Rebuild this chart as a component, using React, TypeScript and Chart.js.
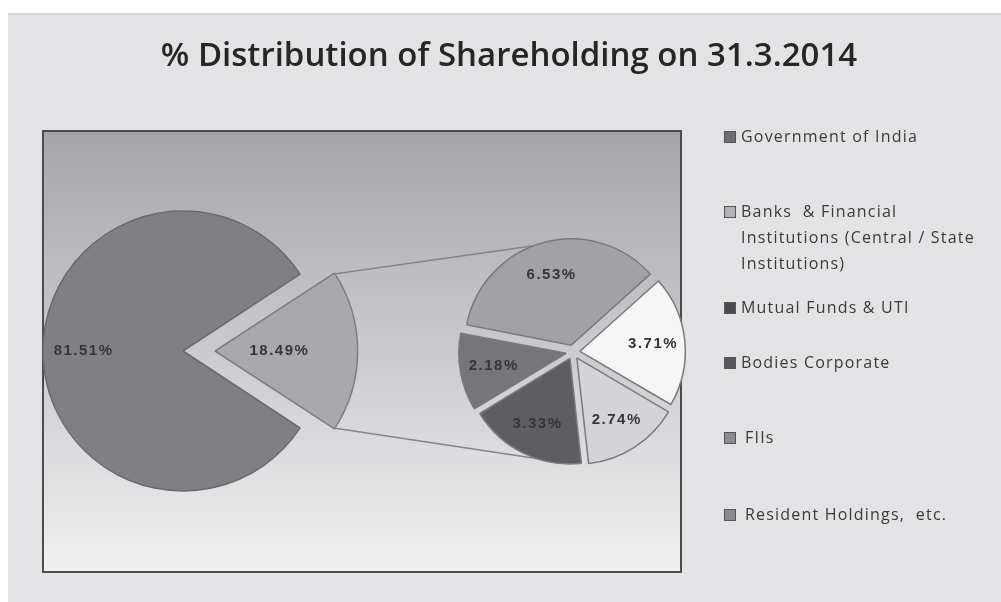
import React, { useEffect, useRef } from 'react';
import { Chart, registerables } from 'chart.js';

Chart.register(...registerables);

// ---------------- data ----------------
const titleText = '% Distribution of Shareholding on 31.3.2014';
const categoryLines: string[][] = [
  ['Government of India'],
  ['Banks  & Financial', 'Institutions (Central / State', 'Institutions)'],
  ['Mutual Funds & UTI'],
  ['Bodies Corporate'],
  ['FIIs'],
  ['Resident Holdings,  etc.'],
];
const categories = categoryLines.map((l) => l.join(' '));
const shares = [81.51, 3.71, 3.33, 2.18, 2.74, 6.53];
const mainLabels = ['Government of India', 'Others'];
const mainValues = [81.51, 18.49];
// order in which the "Others" categories appear clockwise in the secondary pie
const secondaryOrder = [5, 1, 4, 2, 3];

// ---------------- styles ----------------
const sliceColors = ['#808084', '#f6f6f6', '#5e5e62', '#76767a', '#d4d4d6', '#a2a2a6'];
const legendSwatch = ['#6e6e72', '#b4b4b8', '#4a4a4e', '#58585c', '#8c8c90', '#8a8a8e'];
const othersColor = '#a9a9ad';
const W = 1001;
const H = 602;
const panel = { x: 8, y: 13 };
const box = { l: 43, t: 131, r: 681, b: 572 };
const legendY = [137, 212, 308, 363, 438, 515];
const legendTextX = [741, 741, 741, 741, 745, 745];
const labelFont = 'bold 15px "Liberation Sans", Arial, sans-serif';
// Chart.js v4 arcs translate by offset/4
const OFFSET_SCALE = 4;
const mainExplode = [0, 32];
const secExplode = 7;

const fmt = (v: number) => v.toFixed(2) + '%';

const framePlugin = {
  id: 'frame',
  beforeDraw(chart: any) {
    const ctx = chart.ctx as CanvasRenderingContext2D;
    ctx.save();
    ctx.fillStyle = '#ffffff';
    ctx.fillRect(0, 0, W, H);
    ctx.fillStyle = '#e3e3e5';
    ctx.fillRect(panel.x, panel.y, W - panel.x, H - panel.y);
    ctx.fillStyle = '#d6d6d8';
    ctx.fillRect(panel.x, panel.y, W - panel.x, 2);
    const g = ctx.createLinearGradient(0, box.t, 0, box.b);
    g.addColorStop(0, '#a4a5a9');
    g.addColorStop(0.5, '#cbcbce');
    g.addColorStop(1, '#f0f0f1');
    ctx.fillStyle = g;
    ctx.fillRect(box.l, box.t, box.r - box.l, box.b - box.t);
    ctx.strokeStyle = '#4c4c4e';
    ctx.lineWidth = 2;
    ctx.strokeRect(box.l, box.t, box.r - box.l, box.b - box.t);
    ctx.restore();
  },
  afterDraw(chart: any) {
    const ctx = chart.ctx as CanvasRenderingContext2D;
    ctx.save();
    // title
    ctx.fillStyle = '#262626';
    ctx.font = '600 33px "Open Sans", sans-serif';
    ctx.textAlign = 'center';
    ctx.textBaseline = 'middle';
    ctx.fillText(titleText, 509, 57, 700);
    // legend
    ctx.textAlign = 'left';
    ctx.font = '16px "Open Sans", sans-serif';
    (ctx as any).letterSpacing = '1.2px';
    categoryLines.forEach((lines, i) => {
      const y = legendY[i];
      ctx.fillStyle = legendSwatch[i];
      ctx.fillRect(724, y - 6, 12, 12);
      ctx.strokeStyle = '#555555';
      ctx.lineWidth = 1;
      ctx.strokeRect(724.5, y - 5.5, 11, 11);
      ctx.fillStyle = '#3a3a3a';
      lines.forEach((line, j) => {
        ctx.fillText(line, legendTextX[i], y + j * 26);
      });
    });
    ctx.restore();
  },
};

const labelPlugin = {
  id: 'sliceLabels',
  afterDatasetsDraw(chart: any, _args: any, opts: any) {
    const ctx = chart.ctx as CanvasRenderingContext2D;
    const meta = chart.getDatasetMeta(0);
    const texts: string[] = opts.texts || [];
    const fr: number[] = opts.fractions || [];
    ctx.save();
    ctx.font = labelFont;
    (ctx as any).letterSpacing = '1.5px';
    ctx.fillStyle = '#363638';
    ctx.textAlign = 'center';
    ctx.textBaseline = 'middle';
    meta.data.forEach((el: any, i: number) => {
      const p = el.getProps(['x', 'y', 'startAngle', 'endAngle', 'outerRadius']);
      const mid = (p.startAngle + p.endAngle) / 2;
      const d = (el.options.offset || 0) / OFFSET_SCALE + fr[i] * p.outerRadius;
      ctx.fillText(texts[i], p.x + Math.cos(mid) * d, p.y + Math.sin(mid) * d);
    });
    ctx.restore();
  },
};

export default function App() {
  const c1 = useRef<HTMLCanvasElement>(null);
  const c2 = useRef<HTMLCanvasElement>(null);

  useEffect(() => {
    const othersAngle = (mainValues[1] / (mainValues[0] + mainValues[1])) * 360;
    const main = new Chart(c1.current!, {
      type: 'pie',
      data: {
        labels: mainLabels,
        datasets: [
          {
            data: mainValues,
            backgroundColor: [sliceColors[0], othersColor],
            borderColor: ['#6a6a6e', '#7e7e82'],
            borderWidth: 1.5,
            offset: mainExplode.map((o) => o * OFFSET_SCALE),
            clip: false as any,
          },
        ],
      },
      options: {
        responsive: false,
        animation: false,
        events: [],
        rotation: 90 + othersAngle / 2,
        radius: 140,
        layout: { padding: { left: 43, right: W - 323, top: 211, bottom: H - 491 } },
        plugins: {
          legend: { display: false },
          tooltip: { enabled: false },
          title: { display: false },
          sliceLabels: { texts: mainValues.map(fmt), fractions: [0.71, 0.46] },
        } as any,
      },
      plugins: [framePlugin, labelPlugin],
    });

    const secValues = secondaryOrder.map((i) => shares[i]);
    const secColors = secondaryOrder.map((i) => sliceColors[i]);
    const linePlugin = {
      id: 'connectors',
      beforeDatasetsDraw(chart: any) {
        const el: any = main.getDatasetMeta(0).data[1];
        if (!el) return;
        const p = el.getProps(['x', 'y', 'startAngle', 'endAngle', 'outerRadius']);
        const mid = (p.startAngle + p.endAngle) / 2;
        const off = (el.options.offset || 0) / OFFSET_SCALE;
        const ox = p.x + Math.cos(mid) * off;
        const oy = p.y + Math.sin(mid) * off;
        const a1 = [ox + Math.cos(p.startAngle) * p.outerRadius, oy + Math.sin(p.startAngle) * p.outerRadius];
        const a2 = [ox + Math.cos(p.endAngle) * p.outerRadius, oy + Math.sin(p.endAngle) * p.outerRadius];
        const s: any = chart.getDatasetMeta(0).data[0];
        const sp = s.getProps(['x', 'y', 'outerRadius']);
        const R = sp.outerRadius + 6;
        const t = (-103 * Math.PI) / 180;
        const b1 = [sp.x + Math.cos(t) * R, sp.y + Math.sin(t) * R];
        const b2 = [sp.x + Math.cos(-t) * R, sp.y + Math.sin(-t) * R];
        const top = a1[1] < a2[1] ? a1 : a2;
        const bot = a1[1] < a2[1] ? a2 : a1;
        const ctx = chart.ctx as CanvasRenderingContext2D;
        ctx.save();
        ctx.strokeStyle = '#858589';
        ctx.lineWidth = 1.5;
        ctx.beginPath();
        ctx.moveTo(top[0], top[1]);
        ctx.lineTo(b1[0], b1[1]);
        ctx.moveTo(bot[0], bot[1]);
        ctx.lineTo(b2[0], b2[1]);
        ctx.stroke();
        ctx.restore();
      },
    };

    const sec = new Chart(c2.current!, {
      type: 'pie',
      data: {
        labels: secondaryOrder.map((i) => categories[i]),
        datasets: [
          {
            data: secValues,
            backgroundColor: secColors,
            borderColor: '#7a7a7e',
            borderWidth: 1.5,
            offset: secExplode * OFFSET_SCALE,
            clip: false as any,
          },
        ],
      },
      options: {
        responsive: false,
        animation: false,
        events: [],
        rotation: -79,
        radius: 105,
        layout: { padding: { left: 473, right: W - 673, top: 252, bottom: H - 452 } },
        plugins: {
          legend: { display: false },
          tooltip: { enabled: false },
          title: { display: false },
          sliceLabels: { texts: secValues.map(fmt), fractions: [0.7, 0.7, 0.7, 0.7, 0.7] },
        } as any,
      },
      plugins: [linePlugin, labelPlugin],
    });

    return () => {
      sec.destroy();
      main.destroy();
    };
  }, []);

  const cs: React.CSSProperties = { position: 'absolute', left: 0, top: 0, width: W, height: H };
  return (
    <div style={{ position: 'absolute', left: 0, top: 0, width: W, height: H, overflow: 'hidden' }}>
      <canvas ref={c1} width={W} height={H} style={cs} />
      <canvas ref={c2} width={W} height={H} style={cs} />
    </div>
  );
}
